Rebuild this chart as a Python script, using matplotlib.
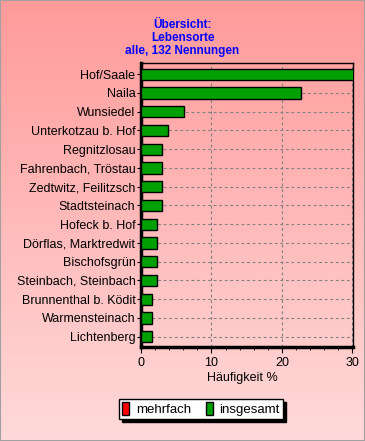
import numpy as np
import matplotlib
matplotlib.use('Agg')
import matplotlib.pyplot as plt
import matplotlib.patches as mpatches
import matplotlib.ticker as ticker
from matplotlib.colors import LinearSegmentedColormap

plt.rcParams['font.family'] = ['Liberation Sans', 'DejaVu Sans']

###############################################
### Daten

orte = ['Hof/Saale', 'Naila', 'Wunsiedel', 'Unterkotzau b. Hof', 'Regnitzlosau',
        'Fahrenbach, Tröstau', 'Zedtwitz, Feilitzsch', 'Stadtsteinach',
        'Hofeck b. Hof', 'Dörflas, Marktredwit', 'Bischofsgrün',
        'Steinbach, Steinbach', 'Brunnenthal b. Ködit', 'Warmensteinach',
        'Lichtenberg']
insgesamt = [30.3, 22.7, 6.06, 3.79, 3.03, 3.03, 3.03, 3.03,
             2.27, 2.27, 2.27, 2.27, 1.52, 1.52, 1.52]
mehrfach = [0] * len(orte)

###############################################
### Figur + Hintergrund

fig = plt.figure(figsize=(3.65, 4.41), dpi=100)

bg = fig.add_axes([0, 0, 1, 1], zorder=-10)
cmap = LinearSegmentedColormap.from_list('rosa', ['#ff9a9a', '#ffdada'])
grad = np.linspace(0, 1, 256).reshape(-1, 1)
bg.imshow(grad, aspect='auto', cmap=cmap, extent=[0, 1, 0, 1], origin='upper')
bg.set_xlim(0, 1)
bg.set_ylim(0, 1)
bg.axis('off')
fig.patches.append(mpatches.Rectangle((0, 0), 1, 1, transform=fig.transFigure,
                                      fill=False, edgecolor='#a0a0a0', lw=1.5))

ax = fig.add_axes([141/365, 1 - 347/441, (353 - 141)/365, (347 - 63)/441])
ax.set_facecolor('none')

y = np.arange(len(orte))
ax.barh(y, mehrfach, height=0.6, color='#ff0000', edgecolor='black', lw=1, zorder=3)
ax.barh(y, insgesamt, height=0.6, color='#00a000', edgecolor='black', lw=1, zorder=3)

ax.set_xlim(0, 30.1)
ax.set_ylim(len(orte) - 0.45, -0.6)
ax.set_yticks(y)
ax.set_yticklabels(orte, fontsize=9)
ax.xaxis.set_major_locator(ticker.MultipleLocator(10))
ax.xaxis.set_minor_locator(ticker.MultipleLocator(2))
ax.tick_params(axis='x', which='major', length=4, labelsize=9, pad=3)
ax.tick_params(axis='x', which='minor', length=2)
ax.tick_params(axis='y', length=3, pad=1)

ax.grid(True, axis='both', which='major', color='#808080', linestyle=(0, (2.5, 2.5)), lw=0.8, zorder=0)
ax.set_axisbelow(True)

for s in ['left', 'bottom']:
    ax.spines[s].set_linewidth(2.5)
for s in ['top', 'right']:
    ax.spines[s].set_linewidth(1)

###############################################
### Texte

fig.text(0.5, 1 - 38/441, 'Übersicht:\nLebensorte\nalle, 132 Nennungen', ha='center', va='center',
         color='#0000ff', fontsize=8.5, fontweight='bold', linespacing=1.08)
fig.text(242/365, 1 - 378/441, 'Häufigkeit %', ha='center', va='center', fontsize=9)

h1 = mpatches.Patch(facecolor='#ff0000', edgecolor='black', label='mehrfach')
h2 = mpatches.Patch(facecolor='#00a000', edgecolor='black', label='insgesamt')
leg = fig.legend(handles=[h1, h2], loc='center', bbox_to_anchor=(201/365, 1 - 409/441),
                 ncol=2, fontsize=9.5, fancybox=False, framealpha=1, edgecolor='black',
                 shadow={'color': 'black', 'alpha': 1}, handlelength=0.55, handleheight=1.1,
                 handletextpad=0.5, columnspacing=1.1, borderpad=0.25, borderaxespad=0)
leg.get_frame().set_linewidth(1)

plt.savefig('out.png', dpi=100)
